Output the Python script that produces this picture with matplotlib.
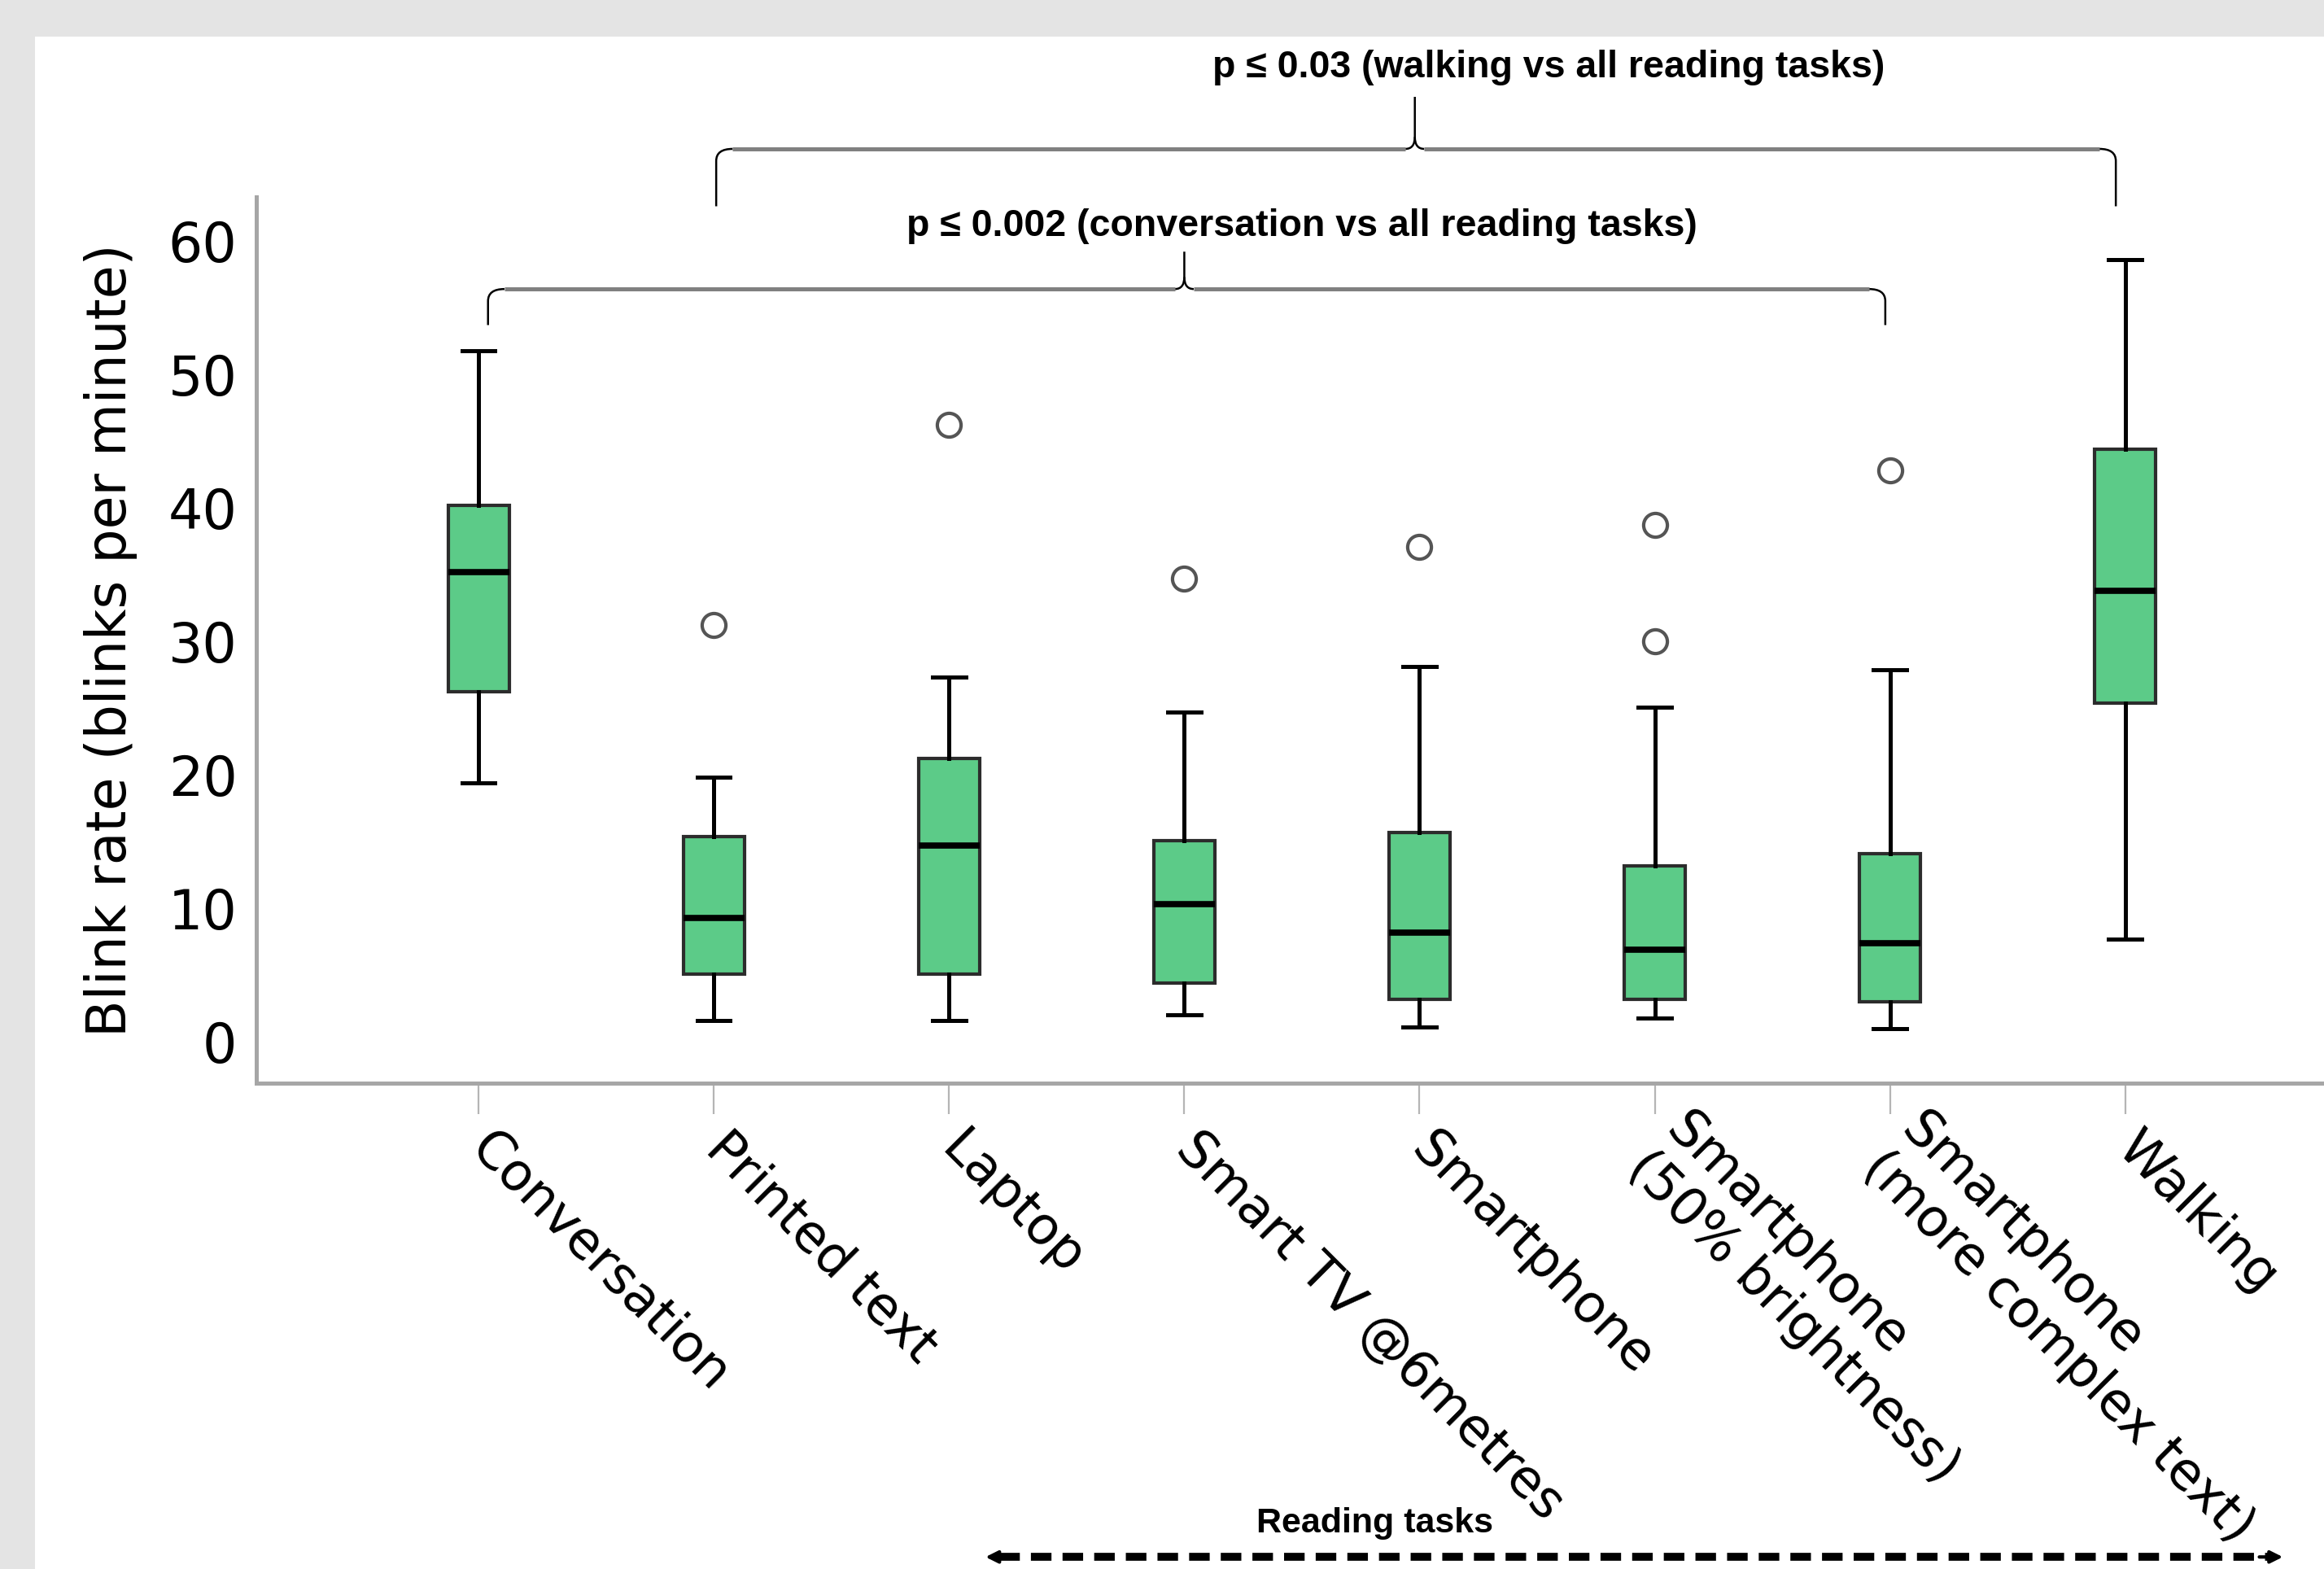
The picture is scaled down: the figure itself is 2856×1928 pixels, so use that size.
import numpy as np
import matplotlib
matplotlib.use("Agg")
import matplotlib.pyplot as plt
from matplotlib.path import Path
from matplotlib.patches import PathPatch, Rectangle

# ---------------- data ----------------
categories = ["Conversation", "Printed text", "Laptop", "Smart TV @6metres",
              "Smartphone", "Smartphone\n(50% brightness)",
              "Smartphone\n(more complex text)", "Walking"]
whisker_low = [19.4, 1.6, 1.6, 2.0, 1.1, 1.8, 1.0, 7.7]
q1_values = [26.2, 5.1, 5.1, 4.4, 3.2, 3.2, 3.0, 25.4]
medians = [35.2, 9.3, 14.7, 10.3, 8.2, 6.9, 7.4, 33.8]
q3_values = [40.2, 15.4, 21.2, 15.1, 15.7, 13.2, 14.1, 44.4]
whisker_high = [51.8, 19.8, 27.3, 24.7, 28.1, 25.1, 27.9, 58.6]
outliers = [[], [31.2], [46.2], [34.7], [37.1], [38.7, 30.0], [42.8], []]
y_ticks = [0, 10, 20, 30, 40, 50, 60]
y_label = "Blink rate (blinks per minute)"
bracket_texts = ["p \u2264 0.002 (conversation vs all reading tasks)",
                 "p \u2264 0.03 (walking vs all reading tasks)"]
reading_label = "Reading tasks"

# ---------------- figure ----------------
W, H, DPI = 2856, 1928, 100
fig = plt.figure(figsize=(W / DPI, H / DPI), dpi=DPI, facecolor="#e4e4e4")
fig.patches.append(Rectangle((43 / W, 0), 1 - 43 / W, 1 - 45 / H,
                             transform=fig.transFigure, facecolor="white",
                             edgecolor="none", zorder=-10))

ax = fig.add_axes([315 / W, 1 - 1331 / H, 1 - 315 / W, (1331 - 242) / H])
ax.set_facecolor("none")

positions = np.arange(len(categories))
stats = []
for i in range(len(categories)):
    stats.append(dict(med=medians[i], q1=q1_values[i], q3=q3_values[i],
                      whislo=whisker_low[i], whishi=whisker_high[i],
                      fliers=outliers[i]))

ax.bxp(stats, positions=positions, widths=0.26, patch_artist=True,
       capwidths=0.14,
       boxprops=dict(facecolor="#5ccb88", edgecolor="#2c2c2c", linewidth=3.0),
       medianprops=dict(color="black", linewidth=5.5),
       whiskerprops=dict(color="black", linewidth=3.6),
       capprops=dict(color="black", linewidth=3.6),
       flierprops=dict(marker="o", markersize=21, markerfacecolor="white",
                       markeredgecolor="#555555", markeredgewidth=3.0))

ax.set_xlim(-0.945, 7.845)
ax.set_ylim(-3.1, 63.3)

for s in ["top", "right"]:
    ax.spines[s].set_visible(False)
for s in ["left", "bottom"]:
    ax.spines[s].set_color("#a6a6a6")
    ax.spines[s].set_linewidth(3.6)

ax.set_yticks(y_ticks)
ax.set_yticklabels([str(v) for v in y_ticks], fontsize=48, family="DejaVu Sans")
ax.tick_params(axis="y", length=0, pad=17)

ax.set_xticks(positions)
ax.set_xticklabels(categories, fontsize=46, family="DejaVu Sans",
                   rotation=-45, ha="left", va="center",
                   rotation_mode="anchor", linespacing=1.1)
ax.tick_params(axis="x", length=27, width=1.6, color="#b5b5b5", pad=24)

ax.set_ylabel(y_label, fontsize=48, family="DejaVu Sans", va="center")
ax.yaxis.set_label_coords(-0.0705, 0.5)


# ---------------- brackets ----------------
def bracket(x0, x1, xc, yh, yleg, ytip, text_x, text_y, text):
    dx = 0.07
    dy = 0.9
    ax.plot([x0 + dx, xc - 0.04], [yh, yh], color="#808080", lw=3.6,
            clip_on=False, solid_capstyle="butt")
    ax.plot([xc + 0.04, x1 - dx], [yh, yh], color="#808080", lw=3.6,
            clip_on=False, solid_capstyle="butt")
    for xe, sgn in [(x0, 1), (x1, -1)]:
        verts = [(xe + sgn * dx, yh), (xe, yh), (xe, yh - dy), (xe, yleg)]
        codes = [Path.MOVETO, Path.CURVE3, Path.CURVE3, Path.LINETO]
        ax.add_patch(PathPatch(Path(verts, codes), fill=False, color="black",
                               lw=1.8, clip_on=False))
    verts = [(xc - 0.04, yh), (xc, yh), (xc, yh + dy), (xc, ytip)]
    codes = [Path.MOVETO, Path.CURVE3, Path.CURVE3, Path.LINETO]
    ax.add_patch(PathPatch(Path(verts, codes), fill=False, color="black",
                           lw=1.8, clip_on=False))
    verts = [(xc + 0.04, yh), (xc, yh), (xc, yh + dy)]
    codes = [Path.MOVETO, Path.CURVE3, Path.CURVE3]
    ax.add_patch(PathPatch(Path(verts, codes), fill=False, color="black",
                           lw=1.8, clip_on=False))
    ax.text(text_x, text_y, text, ha="center", va="center", fontsize=33.5,
            fontweight="bold",
            family=["Liberation Sans Narrow", "Liberation Sans", "DejaVu Sans"],
            clip_on=False)


bracket(0.04, 5.98, 3.0, 56.4, 53.7, 59.2, 3.50, 61.1, bracket_texts[0])
bracket(1.01, 6.96, 3.98, 66.9, 62.6, 70.8, 4.55, 73.0, bracket_texts[1])

# ---------------- reading tasks arrow ----------------
ya = -38.6
xa0, xa1 = 2.155, 7.67
ax.plot([xa0 + 0.06, xa1 - 0.06], [ya, ya], color="black", lw=7,
        linestyle=(0, (2.6, 1.4)), dash_capstyle="butt", clip_on=False)
for xs, xe in [(xa0 + 0.1, xa0), (xa1 - 0.1, xa1)]:
    ax.annotate("", xy=(xe, ya), xytext=(xs, ya),
                arrowprops=dict(arrowstyle="-|>,head_length=0.9,head_width=0.45",
                                color="black", lw=3, shrinkA=0, shrinkB=0),
                annotation_clip=False)
ax.text(3.81, -36.1, reading_label, ha="center", va="center", fontsize=31,
        fontweight="bold",
        family=["Liberation Sans Narrow", "Liberation Sans", "DejaVu Sans"],
        clip_on=False)

fig.savefig("out.png", dpi=DPI, facecolor=fig.get_facecolor())
